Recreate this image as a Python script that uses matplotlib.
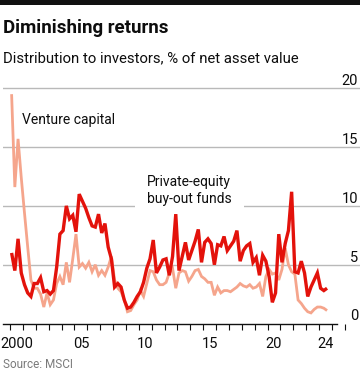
import matplotlib
matplotlib.use("Agg")
import matplotlib.pyplot as plt
import numpy as np

# ---------------- data (quarterly, 2000 Q1 - 2024 Q3) ----------------
start_year = 2000
private_equity_buyout = [
    6.0, 4.5, 7.2, 4.3,   # 2000
    3.3, 2.6, 2.3, 3.4,   # 2001
    3.4, 3.9, 2.7, 2.8,   # 2002
    2.5, 2.8, 4.8, 7.6,   # 2003
    7.9, 10.0, 8.9, 9.2,  # 2004
    7.8, 11.0, 10.4, 9.8, # 2005
    9.0, 8.3, 8.2, 9.3,   # 2006
    7.7, 8.5, 6.5, 5.5,   # 2007
    3.1, 3.4, 3.1, 2.0,   # 2008
    1.3, 1.4, 1.8, 2.3,   # 2009
    2.7, 3.5, 4.7, 5.5,   # 2010
    7.1, 4.3, 4.8, 5.4,   # 2011
    5.5, 4.1, 5.7, 9.3,   # 2012
    4.5, 5.7, 6.9, 5.4,   # 2013
    6.2, 7.0, 8.0, 5.2,   # 2014
    6.9, 7.2, 6.8, 5.0,   # 2015
    6.7, 6.6, 7.4, 6.2,   # 2016
    6.6, 7.0, 7.9, 5.3,   # 2017
    6.2, 6.6, 6.8, 5.2,   # 2018
    5.6, 4.1, 5.8, 5.3,   # 2019
    4.0, 1.8, 2.6, 7.6,   # 2020
    5.2, 6.8, 7.9, 11.2,  # 2021
    4.4, 4.3, 5.3, 4.3,   # 2022
    2.3, 3.1, 3.7, 4.3,   # 2023
    3.0, 2.8, 3.0,        # 2024
]
venture_capital = [
    19.5, 11.6, 15.7, 12.4,  # 2000
    9.4, 6.5, 3.7, 3.0,      # 2001
    3.0, 2.5, 1.4, 2.6,      # 2002
    1.6, 2.0, 3.4, 4.0,      # 2003
    3.3, 5.2, 3.5, 5.5,      # 2004
    7.6, 4.8, 5.1, 4.7,      # 2005
    5.2, 4.4, 5.0, 4.1,      # 2006
    4.5, 4.1, 4.8, 5.7,      # 2007
    3.7, 3.0, 2.7, 2.0,      # 2008
    1.0, 1.1, 1.6, 2.0,      # 2009
    2.8, 2.3, 3.4, 4.5,      # 2010
    4.4, 3.7, 3.3, 3.3,      # 2011
    3.5, 4.3, 4.7, 3.0,      # 2012
    4.3, 4.5, 4.4, 3.6,      # 2013
    4.0, 4.5, 4.6, 4.0,      # 2014
    3.8, 3.5, 3.5, 2.4,      # 2015
    3.1, 2.6, 2.8, 2.8,      # 2016
    2.7, 2.9, 3.1, 3.4,      # 2017
    3.2, 3.1, 3.3, 3.0,      # 2018
    3.1, 3.4, 2.3, 4.0,      # 2019
    4.6, 4.2, 4.3, 3.7,      # 2020
    4.6, 6.4, 5.0, 4.4,      # 2021
    4.2, 2.0, 1.7, 1.3,      # 2022
    1.0, 0.9, 1.2, 1.4,      # 2023
    1.4, 1.3, 1.1,           # 2024
]
y_ticks = [0, 5, 10, 15, 20]
x_label_years = [2000, 2005, 2010, 2015, 2020, 2024]
x_labels = ["2000", "05", "10", "15", "20", "24"]

title = "Diminishing returns"
subtitle = "Distribution to investors, % of net asset value"
source = "Source: MSCI"
label_vc = "Venture capital"
label_pe = "Private-equity\nbuy-out funds"

RED = "#E3120B"
PINK = "#F5A58C"
GRID = "#B9B9B9"
TXT = "#0D0D0D"

plt.rcParams["font.family"] = ["Roboto", "DejaVu Sans"]

W, H = 360, 380
fig = plt.figure(figsize=(W / 100, H / 100), dpi=100)

# pixel geometry of plot region
px_left, px_right = 3, 360
px_zero, px_top = 323.5, 80
yr0_px, px_per_year = 10.0, 12.875
px_per_unit = (323.5 - 88.3) / 20

ax = fig.add_axes([px_left / W, (H - px_zero) / H,
                   (px_right - px_left) / W, (px_zero - px_top) / H])
xmin = start_year + (px_left - yr0_px) / px_per_year
xmax = start_year + (px_right - yr0_px) / px_per_year
ax.set_xlim(xmin, xmax)
ax.set_ylim(0, (px_zero - px_top) / px_per_unit)

n = len(private_equity_buyout)
t = start_year + (np.arange(n) + 0.5) / 4.0

ax.plot(t, venture_capital, color=PINK, lw=2.0, zorder=3,
        solid_joinstyle="miter", solid_capstyle="butt")
ax.plot(t, private_equity_buyout, color=RED, lw=2.4, zorder=4,
        solid_joinstyle="miter", solid_capstyle="butt")

# grid
ax.set_yticks([v for v in y_ticks if v > 0])
ax.yaxis.grid(True, color=GRID, lw=1.0, zorder=1)
ax.set_axisbelow(True)
ax.tick_params(axis="y", left=False, labelleft=False)
for s in ["left", "right", "top"]:
    ax.spines[s].set_visible(False)
last_year = start_year + int(np.ceil(t[-1] - start_year))
ax.spines["bottom"].set_bounds(xmin, last_year + 0.4)
ax.spines["bottom"].set_color("#111111")
ax.spines["bottom"].set_linewidth(1.0)
ax.spines["bottom"].set_zorder(5)

# x ticks: year boundaries, labels centred on the year
ax.set_xticks(np.arange(start_year, last_year + 2))
ax.tick_params(axis="x", which="major", length=4.3, width=0.8,
               color="#111111", labelbottom=False)
ax.set_xticks([y + 0.5 for y in x_label_years], minor=True)
ax.set_xticklabels(x_labels, minor=True)
ax.tick_params(axis="x", which="minor", length=0, pad=9.5,
               labelsize=10.5, labelcolor=TXT)

# y labels above the gridlines at the right
for v in y_ticks:
    ax.text(0.995, v, str(v), transform=ax.get_yaxis_transform(),
            ha="right", va="bottom", fontsize=10.5, color=TXT)

# series labels (inside axes so data lines draw above the white box)
ax.text(22 / W, 1 - 124 / H, label_vc, transform=fig.transFigure,
        ha="left", va="baseline", fontsize=10, color=TXT, zorder=2)
ax.text(147 / W, 1 - 203 / H, label_pe, transform=fig.transFigure,
        ha="left", va="baseline", fontsize=10, color=TXT,
        linespacing=1.25, zorder=2,
        bbox=dict(boxstyle="square,pad=0.85", fc="white", ec="none"))

# header
fig.add_artist(plt.Rectangle((0, 1 - 5 / H), 1, 5 / H, transform=fig.transFigure,
                             color="#111111", lw=0))
fig.text(3 / W, 1 - 33 / H, title, ha="left", va="baseline",
         fontsize=13.5, fontweight="bold", color=TXT)
fig.text(3 / W, 1 - 62 / H, subtitle, ha="left", va="baseline",
         fontsize=10.7, color=TXT)
fig.text(3 / W, 1 - 368 / H, source, ha="left", va="baseline",
         fontsize=8.5, color="#7A7A7A")

fig.savefig("out.png", dpi=100)
